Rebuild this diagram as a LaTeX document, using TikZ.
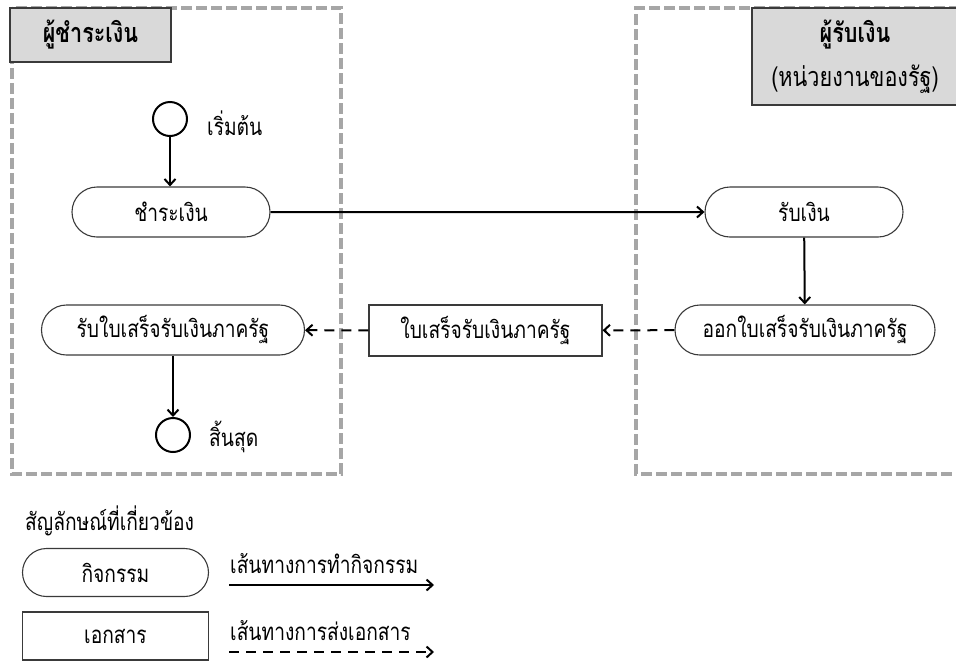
\documentclass[tikz,border=0pt]{standalone}
\usepackage{fontspec}
\newfontfamily\thai[Script=Thai,FakeStretch=0.8]{Loma}
\usetikzlibrary{shapes.misc,arrows.meta}
\definecolor{lanegray}{HTML}{A6A6A6}
\definecolor{titlefill}{HTML}{D9D9D9}
\definecolor{edge}{HTML}{3A3A3A}
\tikzset{
  lanebox/.style={draw=lanegray, line width=4pt, dash pattern=on 11pt off 4pt},
  titlebox/.style={draw=edge, fill=titlefill, line width=1.1pt, inner sep=0pt, align=center, font=\thai\fontsize{27}{44}\selectfont\bfseries},
  activity/.style={draw=edge, line width=1.1pt, rounded rectangle, rounded rectangle arc length=180, inner sep=0pt, minimum height=50pt, font=\thai\fontsize{24}{26}\selectfont},
  docbox/.style={draw=edge, line width=1.1pt, rectangle, inner sep=0pt, font=\thai\fontsize{24}{26}\selectfont},
  terminal/.style={draw=black, line width=2pt, circle, inner sep=0pt, minimum size=34pt},
  plain/.style={inner sep=0pt, anchor=west, font=\thai\fontsize{24}{26}\selectfont},
  flow/.style={draw=black, line width=2pt, -{Straight Barb[length=6pt,width=11pt,line width=2pt]}},
  docflow/.style={flow, dash pattern=on 10pt off 7pt},
}
\begin{document}
\begin{tikzpicture}[x=1pt,y=-1pt]
\useasboundingbox (0,0) rectangle (956,662);
% lanes
\draw[lanebox] (12,8) rectangle (341,474);
\draw[lanebox] (960,8) -- (636,8) -- (636,474) -- (960,474);
\node[titlebox, minimum width=161pt, minimum height=54pt] (t1) at (90.5,35) {ผู้ชำระเงิน};
\node[titlebox, minimum width=206pt, minimum height=97pt] (t2) at (855,56.5) {ผู้รับเงิน\\{\mdseries(หน่วยงานของรัฐ)}};
% nodes
\node[terminal] (start) at (170,119) {};
\node[plain] (startl) at (207,123) {เริ่มต้น};
\node[activity, minimum width=198pt] (pay) at (171,212) {ชำระเงิน};
\node[activity, minimum width=198pt] (recv) at (804,212) {รับเงิน};
\node[activity, minimum width=260pt] (issue) at (805,330) {ออกใบเสร็จรับเงินภาครัฐ};
\node[docbox, minimum width=233pt, minimum height=51pt] (doc) at (485.5,330.5) {ใบเสร็จรับเงินภาครัฐ};
\node[activity, minimum width=263pt] (get) at (173,330) {รับใบเสร็จรับเงินภาครัฐ};
\node[terminal] (stop) at (173,435) {};
\node[plain] (stopl) at (209,437) {สิ้นสุด};
% connectors
\draw[flow] (start) -- (start |- pay.north);
\draw[flow] (pay) -- (recv);
\draw[flow] (recv) -- (issue);
\draw[docflow] (issue) -- (doc);
\draw[docflow] (doc) -- (get);
\draw[flow] (get) -- (stop);
% legend
\node[plain] (legt) at (25,521) {สัญลักษณ์ที่เกี่ยวข้อง};
\node[activity, minimum width=186pt, minimum height=48pt] (lact) at (115.5,572.5) {กิจกรรม};
\node[docbox, minimum width=186pt, minimum height=48pt] (ldoc) at (115.5,636) {เอกสาร};
\node[plain] (lflowt) at (230,564) {เส้นทางการทำกิจกรรม};
\node[plain] (ldoct) at (230,631) {เส้นทางการส่งเอกสาร};
\coordinate (a1) at (229,585);
\coordinate (a2) at (434,585);
\coordinate (b1) at (229,652);
\coordinate (b2) at (434,652);
\draw[flow] (a1) -- (a2);
\draw[docflow] (b1) -- (b2);
\end{tikzpicture}
\end{document}
